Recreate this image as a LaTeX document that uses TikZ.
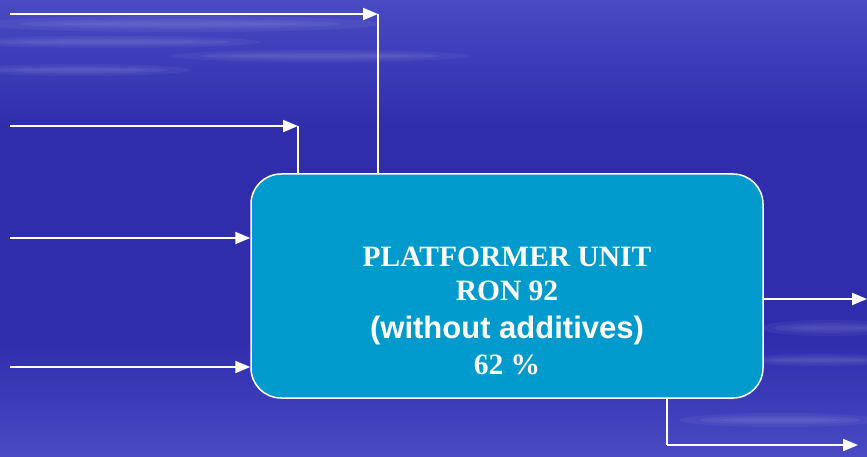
\documentclass[tikz,border=0pt]{standalone}
\usepackage{fontspec}
\setmainfont{Liberation Serif}
\newfontfamily\arialfont{Liberation Sans}
\usetikzlibrary{arrows.meta}
\definecolor{bgblue}{RGB}{47,45,172}
\definecolor{bglight}{RGB}{74,74,196}
\definecolor{boxblue}{RGB}{0,155,204}
\tikzset{
  wire/.style={draw=white, line width=2pt},
  arr/.style={wire, -{Triangle[length=15pt,width=12pt]}},
  unitbox/.style={draw=white, line width=1.5pt, fill=boxblue, rounded corners=30pt,
    minimum width=512pt, minimum height=224pt, inner sep=0pt},
  unittext/.style={text=white, align=center, inner sep=0pt, font=\bfseries\fontsize{29.5}{34}\selectfont},
  streak/.style={fill=white, opacity=0.05}
}
\newcommand{\softstreak}[4]{%
  \fill[streak] (#1,#2) ellipse (#3 and #4);
  \fill[streak] (#1,#2) ellipse ({0.8*#3} and {0.6*#4});
  \fill[streak] (#1,#2) ellipse ({0.6*#3} and {0.3*#4});
}
\begin{document}
\begin{tikzpicture}[x=1pt,y=-1pt]
\useasboundingbox (0,0) rectangle (867,457);
% background
\fill[bgblue] (0,0) rectangle (867,457);
\shade[top color=bglight, bottom color=bgblue] (0,0) rectangle (867,130);
\shade[top color=bgblue, bottom color=bglight] (0,340) rectangle (867,457);
\softstreak{180}{24}{200}{8}
\softstreak{110}{42}{150}{6}
\softstreak{80}{70}{110}{6}
\softstreak{320}{56}{150}{6}
\softstreak{830}{328}{70}{8}
\softstreak{820}{360}{80}{6}
\softstreak{780}{420}{100}{7}
% box
\node[unitbox] (unit) at (507,286) {};
\node[unittext] (label) at (507,311) {PLATFORMER UNIT\\RON 92\\[4pt]{\arialfont\fontsize{31}{34}\selectfont (without additives)}\\[2pt]62 \%};
% input coordinates
\coordinate (in1) at (10,14);
\coordinate (k1) at (378,14);
\coordinate (in2) at (10,126);
\coordinate (k2) at (298,126);
\coordinate (in3) at (10,238);
\coordinate (in4) at (10,367);
\coordinate (out1) at (867,299);
\coordinate (k6) at (667,445);
\coordinate (out2) at (858,445);
% connectors
\draw[arr] (in1) -- (k1);
\draw[wire] (k1) -- (k1 |- unit.north);
\draw[arr] (in2) -- (k2);
\draw[wire] (k2) -- (k2 |- unit.north);
\draw[arr] (in3) -- (in3 -| unit.west);
\draw[arr] (in4) -- (in4 -| unit.west);
\draw[arr] (out1 -| unit.east) -- (out1);
\draw[wire] (k6 |- unit.south) -- (k6);
\draw[arr] (k6) -- (out2);
\end{tikzpicture}
\end{document}
